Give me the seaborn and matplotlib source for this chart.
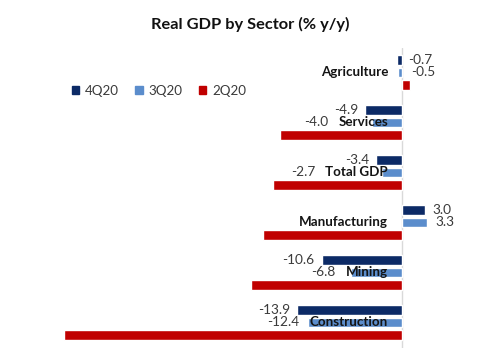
import matplotlib
matplotlib.use("Agg")
import matplotlib.pyplot as plt
import matplotlib.patches as mpatches
import seaborn as sns
import pandas as pd

sectors = ["Agriculture", "Services", "Total GDP", "Manufacturing", "Mining", "Construction"]
quarters = ["4Q20", "3Q20", "2Q20"]
q4_vals = [-0.7, -4.9, -3.4, 3.0, -10.6, -13.9]
q3_vals = [-0.5, -4.0, -2.7, 3.3, -6.8, -12.4]
q2_vals = [1.0, -16.1, -17.1, -18.3, -20.0, -44.6]
labelled = ["4Q20", "3Q20"]
title = "Real GDP by Sector (% y/y)"

colors = {"4Q20": "#0c2a66", "3Q20": "#5b8dcc", "2Q20": "#c00000"}

rows = []
for q, vals in zip(quarters, [q4_vals, q3_vals, q2_vals]):
    for s, v in zip(sectors, vals):
        rows.append({"Sector": s, "Quarter": q, "Value": v})
df = pd.DataFrame(rows)

sns.set_theme(style="white")
plt.rcParams["font.family"] = ["Lato", "DejaVu Sans"]

DPI = 100
fig = plt.figure(figsize=(4.93, 3.5), dpi=DPI)
W, H = 493, 350
ax = fig.add_axes([57.6 / W, 2.5 / H, 435.2 / W, 300 / H])

sns.barplot(data=df, y="Sector", x="Value", hue="Quarter", order=sectors,
            hue_order=quarters, palette=colors, orient="h", width=0.75,
            gap=0.22, saturation=1, legend=False, ax=ax, zorder=2)

ax.set_xlim(-45.5, 12)
ax.set_ylim(len(sectors) - 0.5, -0.5)
ax.axvline(0, color="#d9d9d9", lw=1, zorder=1)
for sp in ax.spines.values():
    sp.set_visible(False)
ax.set_xticks([])
ax.set_yticks([])
ax.set_xlabel("")
ax.set_ylabel("")

# category labels near the zero line
cat_texts = []
for i, s in enumerate(sectors):
    t = ax.annotate(s, xy=(0, i), xytext=(-14, 0), textcoords="offset pixels",
                    ha="right", va="center", fontsize=9.6, fontweight="bold",
                    color="#141414", zorder=5)
    cat_texts.append(t)

fig.canvas.draw()
renderer = fig.canvas.get_renderer()
inv = ax.transData.inverted()
cat_left = [inv.transform((t.get_window_extent(renderer).x0, 0))[0] for t in cat_texts]

px = (ax.get_xlim()[1] - ax.get_xlim()[0]) / ax.get_window_extent(renderer).width

offsets = {"4Q20": -0.25, "3Q20": 0.0, "2Q20": 0.25}
for q, vals in zip(quarters, [q4_vals, q3_vals, q2_vals]):
    if q not in labelled:
        continue
    for i, v in enumerate(vals):
        y = i + offsets[q]
        txt = f"{v:.1f}"
        if abs(v) < 1:
            x, ha = 0 + (6 if q == "4Q20" else 9) * px, "left"
        elif v > 0:
            x, ha = v + 8 * px, "left"
        else:
            x = v - 7 * px
            if q == "3Q20":
                x = min(x, cat_left[i] - 10 * px)
            ha = "right"
        ax.text(x, y, txt, ha=ha, va="center", fontsize=9.8, color="#3a3a3a", zorder=5)

handles = [mpatches.Patch(color=colors[q], label=q) for q in quarters]
fig.legend(handles=handles, loc="center left", bbox_to_anchor=(72 / W, 1 - 91 / H),
           ncol=3, frameon=False, handlelength=0.55, handleheight=0.55,
           handletextpad=0.45, columnspacing=1.2, borderpad=0, borderaxespad=0,
           prop={"size": 9.6}, labelcolor="#3a3a3a")

fig.text(250 / W, 1 - 24 / H, title, ha="center", va="center", fontsize=11.8,
         fontweight="bold", color="#111111")

fig.savefig("out.png", dpi=DPI, facecolor="white")
